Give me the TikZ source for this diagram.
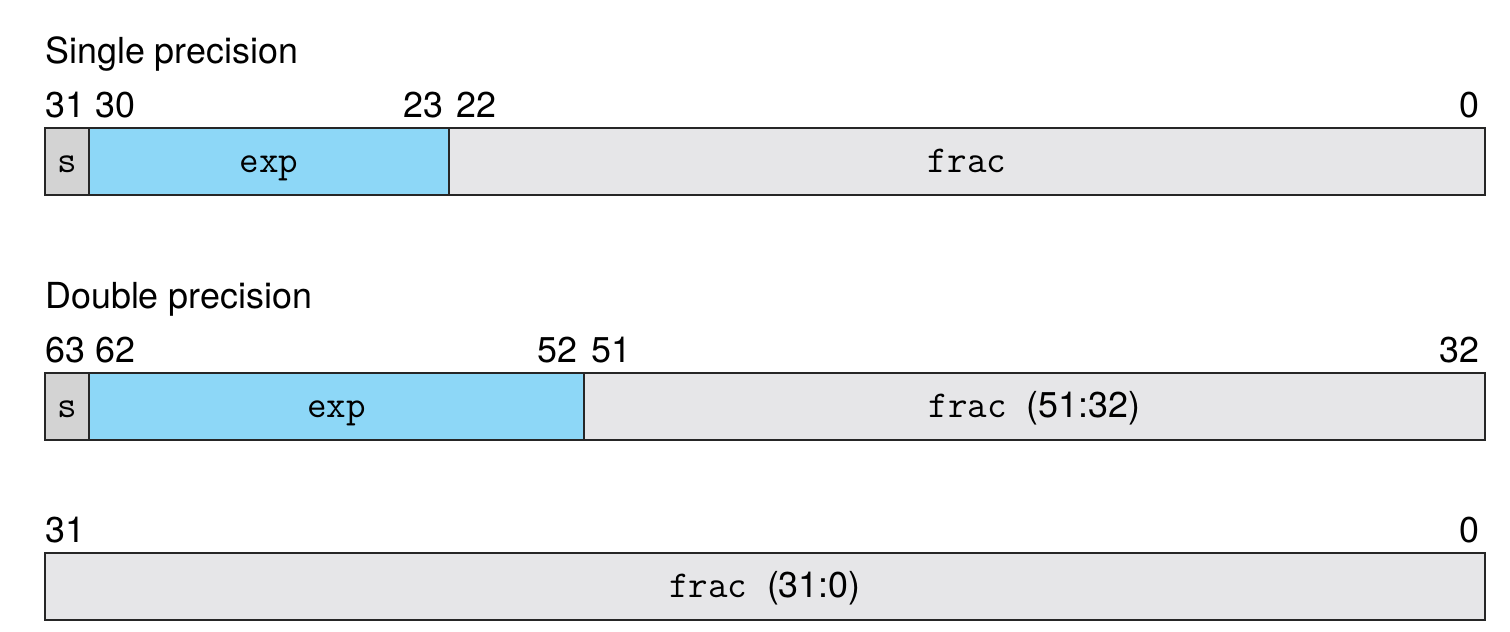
\documentclass[tikz,border=0pt]{standalone}
\usepackage{fontspec}
\setmainfont{TeX Gyre Heros}
\usepackage{tikz}
\usetikzlibrary{positioning}
\definecolor{expblue}{HTML}{8DD7F7}
\definecolor{signgray}{HTML}{D3D3D3}
\definecolor{fracgray}{HTML}{E6E6E8}
\newcommand{\fld}[1]{{\ttfamily\fontsize{21.6}{23}\selectfont #1}}

\begin{document}
\begin{tikzpicture}[x=0.2mm,y=-0.2mm,font=\fontsize{20.4}{22}\selectfont,
  field/.style={draw=black!85,line width=1.1pt},
  label/.style={anchor=base,inner sep=0pt},
  num/.style={inner sep=0pt},
  title/.style={inner sep=0pt,anchor=base west}]
  \useasboundingbox (0,0) rectangle (1510,631);

  % single precision
  \node[title] (sptitle) at (45,63) {Single precision};
  \draw[field,fill=signgray] (45,128) rectangle (89,195);
  \draw[field,fill=expblue]  (89,128) rectangle (449,195);
  \draw[field,fill=fracgray] (449,128) rectangle (1485,195);
  \node[label] (sps)    at (67,172)  {\fld{s}};
  \node[label] (spexp)  at (269,172) {\fld{exp}};
  \node[label] (spfrac) at (967,172) {\fld{frac}};
  \node[num,anchor=base west] (sp31) at (45,117)   {31};
  \node[num,anchor=base west] (sp30) at (95,117)   {30};
  \node[num,anchor=base east] (sp23) at (444,117)  {23};
  \node[num,anchor=base west] (sp22) at (456,117)  {22};
  \node[num,anchor=base east] (sp0)  at (1480,117) {0};

  % double precision, upper word
  \node[title] (dptitle) at (45,308) {Double precision};
  \draw[field,fill=signgray] (45,373) rectangle (89,440);
  \draw[field,fill=expblue]  (89,373) rectangle (584,440);
  \draw[field,fill=fracgray] (584,373) rectangle (1485,440);
  \node[label] (dps)    at (67,417)     {\fld{s}};
  \node[label] (dpexp)  at (336.5,417)  {\fld{exp}};
  \node[label] (dpfrac) at (1034.5,417) {\fld{frac~}(51:32)};
  \node[num,anchor=base west] (dp63) at (45,362)   {63};
  \node[num,anchor=base west] (dp62) at (95,362)   {62};
  \node[num,anchor=base east] (dp52) at (578,362)  {52};
  \node[num,anchor=base west] (dp51) at (591,362)  {51};
  \node[num,anchor=base east] (dp32) at (1480,362) {32};

  % double precision, lower word
  \draw[field,fill=fracgray] (45,553) rectangle (1485,620);
  \node[label] (dplow) at (765,597) {\fld{frac~}(31:0)};
  \node[num,anchor=base west] (dl31) at (45,542)   {31};
  \node[num,anchor=base east] (dl0)  at (1480,542) {0};
\end{tikzpicture}
\end{document}
